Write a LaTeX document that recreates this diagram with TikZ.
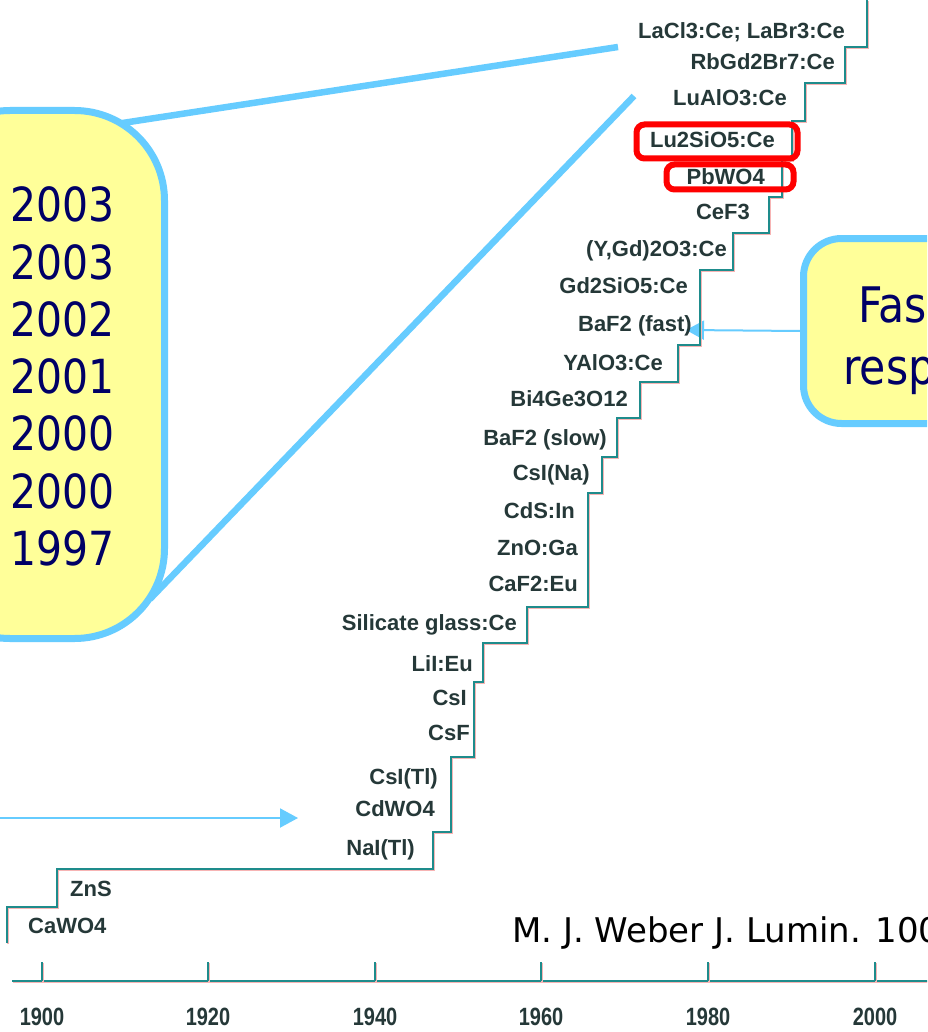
\documentclass[tikz,border=0pt]{standalone}
\usepackage{fontspec}
\setmainfont{Liberation Sans}
\newfontfamily\tah[FakeStretch=0.87]{DejaVu Sans}
\newfontfamily\citefont{DejaVu Sans}
\newfontfamily\axf[FakeStretch=0.8]{Liberation Sans}
\usetikzlibrary{arrows.meta}
\definecolor{boxblue}{HTML}{66CCFF}
\definecolor{boxyellow}{HTML}{FFFF99}
\definecolor{navy}{HTML}{000066}
\definecolor{stairteal}{HTML}{1E8C8C}
\definecolor{stairred}{HTML}{F7B4B4}
\definecolor{labc}{HTML}{253838}
\definecolor{redline}{HTML}{FF0000}
\begin{document}
\begin{tikzpicture}[x=1pt,y=-1pt,
  zoomline/.style={draw=boxblue, line width=6.5pt},
  calloutbox/.style={draw=boxblue, fill=boxyellow, line width=7pt, inner sep=0pt},
  yr/.style={anchor=base west, inner sep=0pt, text=navy, font=\tah\fontsize{47}{50}\selectfont},
  yrtwo/.style={anchor=base west, inner sep=0pt, text=navy, font=\tah\fontsize{49}{52}\selectfont},
  thinarrow/.style={draw=boxblue, line width=2pt, -{Triangle[length=18pt, width=19pt]}, fill=boxblue},
  stair/.style={draw=stairteal, line width=2.5pt,
     preaction={draw=stairred, line width=2pt, transform canvas={xshift=1.2pt, yshift=-1.2pt}}},
  lab/.style={anchor=base east, inner sep=0pt, text=labc, font=\fontsize{22}{24}\selectfont\bfseries},
  labw/.style={anchor=base west, inner sep=0pt, text=labc, font=\fontsize{22}{24}\selectfont\bfseries},
  redbox/.style={draw=redline, line width=6pt, rounded corners=8pt, inner sep=0pt},
  axlab/.style={anchor=base, inner sep=0pt, text=labc, font=\axf\bfseries\fontsize{25}{27}\selectfont},
  cite/.style={anchor=base west, inner sep=0pt, text=black, font=\citefont\fontsize{34}{36}\selectfont}
]
\useasboundingbox (0,0) rectangle (927,1032);
\clip (0,0) rectangle (927,1032);
\fill[white] (0,0) rectangle (927,1032);

% zoom lines from the year box to the top of the staircase
\coordinate (zA) at (618,47);
\coordinate (zB) at (634,96);
\coordinate (lA) at (116,124);
\coordinate (lB) at (150,599);
\draw[zoomline] (lA) -- (zA);
\draw[zoomline] (lB) -- (zB);

% call-out boxes
\node[calloutbox, rounded corners=90pt, minimum width=244.5pt, minimum height=528pt] (lbox) at (42.25,374.5) {};
\node[calloutbox, rounded corners=38pt, minimum width=296.5pt, minimum height=185pt] (rbox) at (951.75,331) {};

\foreach \yv [count=\i] in {2003,2003,2002,2001,2000,2000,1997}
  \node[yr] (yr\i) at (10,{222+57.2*(\i-1)}) {\yv};

\node[yrtwo] (fas) at (858,322) {Fas};
\node[yrtwo] (resp) at (843,384) {resp};

% arrows
\coordinate (tipR) at (686,330);
\draw[thinarrow] (rbox.west) -- (tipR);
\coordinate (tailL) at (-5,818);
\coordinate (tipL) at (298,818);
\draw[thinarrow] (tailL) -- (tipL);

% staircase
\draw[stair] (7,943) -- (7,907) -- (57,907) -- (57,869) -- (433,869) -- (433,832)
  -- (451,832) -- (451,757) -- (474,757) -- (474,682) -- (483,682) -- (483,643)
  -- (527,643) -- (527,607) -- (588,607) -- (588,493) -- (602,493) -- (602,457)
  -- (617,457) -- (617,418) -- (640,418) -- (640,382) -- (678,382) -- (678,345)
  -- (700,345) -- (700,270) -- (733,270) -- (733,233) -- (769,233) -- (769,197)
  -- (782,197) -- (782,160) -- (792,160) -- (792,121) -- (805,121) -- (805,83)
  -- (845,83) -- (845,47) -- (867,47) -- (867,0);

% labels
\node[lab] (m1) at (845,39) {LaCl3:Ce; LaBr3:Ce};
\node[lab] (m2) at (835,70) {RbGd2Br7:Ce};
\node[lab] (m3) at (787,106) {LuAlO3:Ce};
\node[lab] (m4) at (775,148) {Lu2SiO5:Ce};
\node[lab] (m5) at (765,185) {PbWO4};
\node[lab] (m6) at (750,219) {CeF3};
\node[lab] (m7) at (727,256) {(Y,Gd)2O3:Ce};
\node[lab] (m8) at (688,293) {Gd2SiO5:Ce};
\node[lab] (m9) at (692,331) {BaF2 (fast)};
\node[lab] (m10) at (663,370) {YAlO3:Ce};
\node[lab] (m11) at (628,406) {Bi4Ge3O12};
\node[lab] (m12) at (607,445) {BaF2 (slow)};
\node[lab] (m13) at (590,480) {CsI(Na)};
\node[lab] (m14) at (575,518) {CdS:In};
\node[lab] (m15) at (578,555) {ZnO:Ga};
\node[lab] (m16) at (578,591) {CaF2:Eu};
\node[lab] (m17) at (517,630) {Silicate glass:Ce};
\node[lab] (m18) at (473,671) {LiI:Eu};
\node[lab] (m19) at (467,705) {CsI};
\node[lab] (m20) at (470,740) {CsF};
\node[lab] (m21) at (438,784) {CsI(Tl)};
\node[lab] (m22) at (435,816) {CdWO4};
\node[lab] (m23) at (415,855) {NaI(Tl)};
\node[labw] (m24) at (70,896) {ZnS};
\node[labw] (m25) at (28,933) {CaWO4};

% red highlight boxes
\node[redbox, minimum width=161pt, minimum height=34pt] (rb1) at (717,141.5) {};
\node[redbox, minimum width=127pt, minimum height=25pt] (rb2) at (730,177) {};

% time axis
\draw[stair] (12,981) -- (940,981);
\foreach \x/\yy in {42/1900,208/1920,375/1940,541/1960,708/1980,875/2000}{
  \draw[stair] (\x,962) -- (\x,981);
  \node[axlab] (ax\yy) at (\x,1025) {\yy};
}

% citation
\node[cite] (ref) at (512,942) {M. J. Weber J. Lumin. 100};
\end{tikzpicture}
\end{document}
